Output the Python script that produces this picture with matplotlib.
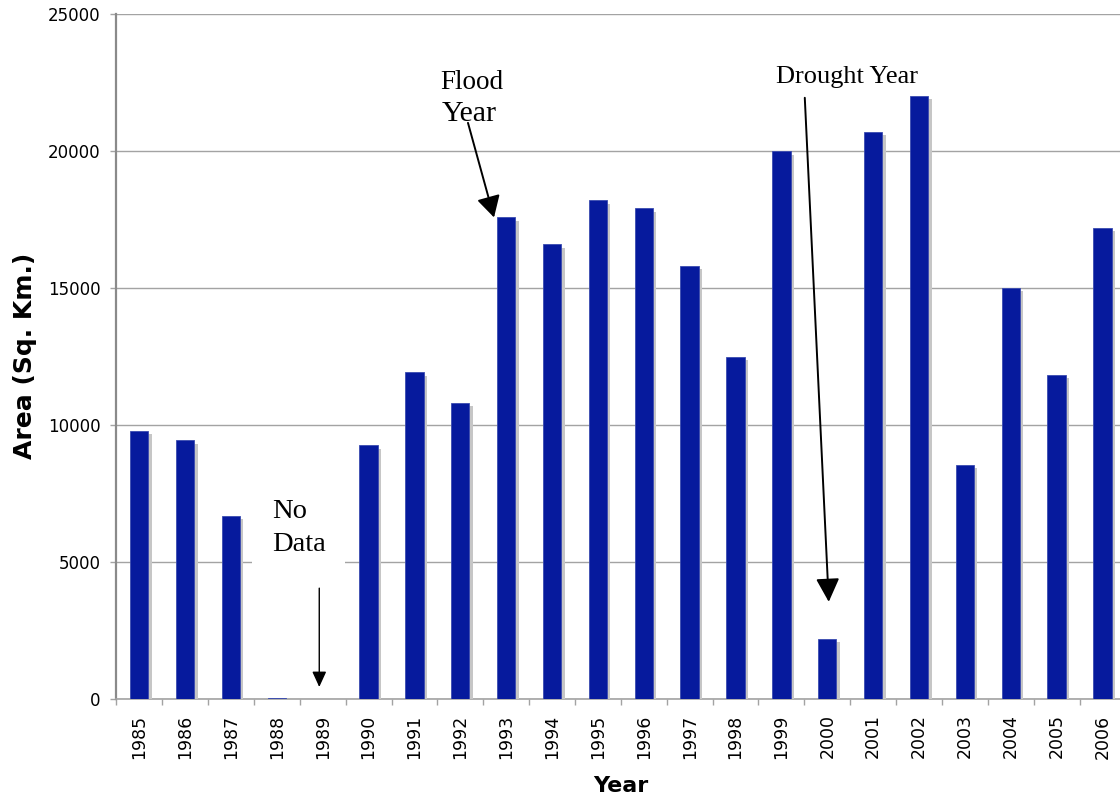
import numpy as np
import matplotlib
matplotlib.use("Agg")
import matplotlib.pyplot as plt
import matplotlib.patheffects as pe

# Inundated area per year (sq. km)
years = ["1985", "1986", "1987", "1988", "1989", "1990", "1991", "1992",
         "1993", "1994", "1995", "1996", "1997", "1998", "1999", "2000",
         "2001", "2002", "2003", "2004", "2005", "2006"]
area = [9770, 9430, 6670, 30, 0, 9250, 11910, 10810,
        17570, 16590, 18190, 17900, 15810, 12470, 19980, 2170,
        20700, 22000, 8540, 15000, 11820, 17180]
y_ticks = [0, 5000, 10000, 15000, 20000, 25000]

BAR = "#061A9D"
SHADOW = "#c6c6c6"
GRID = "#a3a3a3"
SERIF = ["Liberation Serif", "DejaVu Serif"]

plt.rcParams["font.family"] = ["DejaVu Sans"]

fig = plt.figure(figsize=(11.2, 8.02), dpi=100)
ax = fig.add_axes([116.3 / 1120, (802 - 698.5) / 802, 1009.1 / 1120, 684.5 / 802])

x = np.arange(len(years))
bars = ax.bar(x, area, width=0.40, color=BAR, edgecolor="#3a4bb0",
              linewidth=0.6, zorder=3)
for b in bars:
    b.set_path_effects([
        pe.SimplePatchShadow(offset=(2.4, -2.4), shadow_rgbFace=SHADOW, alpha=1.0),
        pe.Normal(),
    ])

ax.set_xlim(-0.5, len(years) - 0.5)
ax.set_ylim(y_ticks[0], y_ticks[-1])

# category boundaries carry the tick marks, centres carry the labels
ax.set_xticks(np.arange(len(years) + 1) - 0.5)
ax.set_xticklabels([])
ax.set_xticks(x, minor=True)
ax.set_xticklabels(years, minor=True, rotation=90, fontsize=12.5)
ax.tick_params(axis="x", which="major", length=4, width=1.0, color=GRID)
ax.tick_params(axis="x", which="minor", length=0, pad=11.5)

ax.set_yticks(y_ticks)
ax.set_yticklabels([str(v) for v in y_ticks], fontsize=12)
ax.tick_params(axis="y", length=4.3, width=1.0, color=GRID, pad=7.2)

ax.yaxis.grid(True, color=GRID, linewidth=1.0, zorder=0)
ax.set_axisbelow(True)

for side in ("top", "right"):
    ax.spines[side].set_visible(False)
ax.spines["left"].set_color("#8a8a8a")
ax.spines["left"].set_linewidth(1.6)
ax.spines["bottom"].set_color(GRID)
ax.spines["bottom"].set_linewidth(1.2)

ax.set_xlabel("Year", fontsize=16, fontweight="bold")
ax.xaxis.set_label_coords(0.5, -0.113)
ax.set_ylabel("Area (Sq. Km.)", fontsize=18, fontweight="bold")
ax.yaxis.set_label_coords(-0.0905, 0.5)
ax.yaxis.label.set_va("center")

# Flood year annotation
ax.text(6.557, 22265, "Flood", family=SERIF, fontsize=19.5, va="baseline", zorder=5)
ax.text(6.60, 21098, "Year", family=SERIF, fontsize=21.5, va="baseline", zorder=5)
ax.annotate("", xy=(7.735, area[8]), xytext=(7.167, 21025),
            arrowprops=dict(arrowstyle="-|>,head_length=13,head_width=7.2",
                            mutation_scale=1, color="black", lw=1.4,
                            shrinkA=0, shrinkB=0), zorder=5)

# Drought year annotation
ax.text(13.882, 22484, "Drought Year", family=SERIF, fontsize=19, va="baseline", zorder=5)
ax.annotate("", xy=(15.033, 3530), xytext=(14.51, 21940),
            arrowprops=dict(arrowstyle="-|>,head_length=14.4,head_width=7.2",
                            mutation_scale=1, color="black", lw=1.4,
                            shrinkA=0, shrinkB=0), zorder=5)

# Missing years
ax.text(2.89, 5379, "No\nData", family=SERIF, fontsize=20.5, va="baseline",
        linespacing=1.45, zorder=4,
        bbox=dict(facecolor="white", edgecolor="none", pad=14))
ax.annotate("", xy=(3.925, 420), xytext=(3.925, 4030),
            arrowprops=dict(arrowstyle="-|>,head_length=9.4,head_width=4.3",
                            mutation_scale=1, color="black", lw=1.0,
                            shrinkA=0, shrinkB=0), zorder=5)

fig.savefig("out.png", dpi=100)
